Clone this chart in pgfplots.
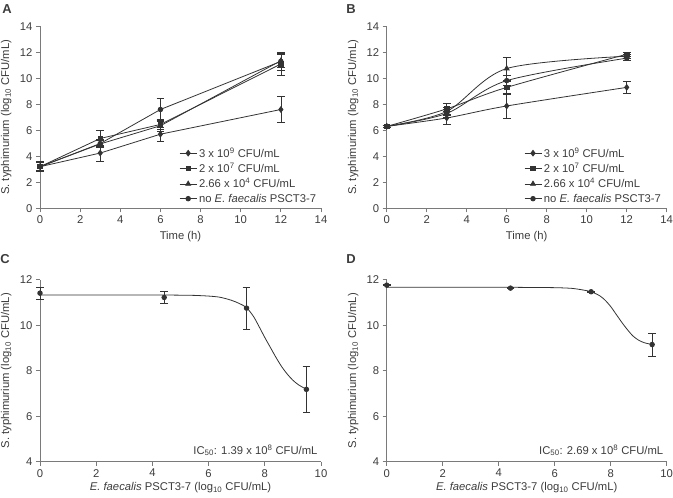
\documentclass[border=0pt]{standalone}
\usepackage{fontspec}
\setmainfont{Liberation Sans}
\usepackage{pgfplots}
\pgfplotsset{compat=1.18}
\definecolor{ln}{HTML}{333333}
\definecolor{ax}{HTML}{7A7A7A}
\definecolor{tx}{HTML}{3C3C3C}
\newcommand{\fs}{\fontsize{11.3}{13.5}\selectfont}
\pgfplotsset{
 panel/.style={
  scale only axis, height=182bp,
  axis lines=left, axis line style={ax, line width=0.9pt, -},
  every tick/.style={ax, line width=0.8pt}, tick align=outside, major tick length=4bp,
  ticklabel style={font=\fs, text=tx},
  /pgf/number format/assume math mode=true,
  every axis y label/.style={at={(axis description cs:-0.12,0.5)}, rotate=90, anchor=center, font=\fs, text=tx},
  every axis x label/.style={at={(axis description cs:0.5,0)}, anchor=center, yshift=-28bp, font=\fs, text=tx},
  ylabel={S. typhimurium (log\textsubscript{10} CFU/mL)},
  clip=false,
  cycle list={{ln, mark options={fill=ln, draw=ln, solid}}},
  every axis plot/.append style={ln, line width=0.8pt, mark size=2.3bp},
  error bars/error bar style={ln, line width=0.7pt},
  error bars/error mark options={rotate=90, mark size=3.8bp, line width=0.7pt, ln},
  legend style={draw=none, fill=none, font=\fs, text=tx, inner sep=0pt, row sep=0.5bp, anchor=north west},
  legend cell align=left,
 },
 timepanel/.style={panel, width=281bp, xmin=0, xmax=14, ymin=0, ymax=14,
  xtick={0,2,...,14}, ytick={0,2,...,14}, xlabel={Time (h)}},
 icpanel/.style={panel, width=281bp, xmin=0, xmax=10, ymin=4, ymax=12,
  xtick={0,2,...,10}, ytick={4,6,...,12},
  xlabel={\textit{E. faecalis} PSCT3-7 (log\textsubscript{10} CFU/mL)},
  every axis x label/.append style={yshift=2bp}},
}
\begin{document}
\begin{tikzpicture}
\useasboundingbox (0,0) rectangle (673bp,498bp);
% ---------- A ----------
\begin{axis}[timepanel, at={(40bp,289.7bp)}, anchor=south west,
  legend style={at={(0.495,0.345)}}]
\addplot+[mark=diamond*, mark size=2.8bp, error bars/.cd, y dir=both, y explicit] coordinates {
 (0,3.2) +- (0,0.38) (3,4.25) +- (0,0.62) (6,5.7) +- (0,0.55) (12,7.6) +- (0,1.0)};
\addplot+[mark=square*, mark size=2.2bp, error bars/.cd, y dir=both, y explicit] coordinates {
 (0,3.2) +- (0,0.35) (3,5.37) +- (0,0.63) (6,6.45) +- (0,0.4) (12,11.1) +- (0,0.85)};
\addplot+[mark=triangle*, mark size=2.8bp, error bars/.cd, y dir=both, y explicit] coordinates {
 (0,3.2) +- (0,0.3) (3,4.95) +- (0,0.3) (6,6.35) +- (0,0.45) (12,11.35) +- (0,0.5)};
\addplot+[mark=*, error bars/.cd, y dir=both, y explicit] coordinates {
 (0,3.2) +- (0,0.3) (3,4.98) +- (0,0.3) (6,7.6) +- (0,0.88) (12,11.3) +- (0,0.72)};
\legend{3 x 10\textsuperscript{9} CFU/mL, 2 x 10\textsuperscript{7} CFU/mL, 2.66 x 10\textsuperscript{4} CFU/mL, no \textit{E. faecalis} PSCT3-7}
\end{axis}
% ---------- B ----------
\begin{axis}[timepanel, width=280bp, at={(386.7bp,289.7bp)}, anchor=south west,
  legend style={at={(0.49,0.345)}}]
\addplot+[smooth, mark=diamond*, mark size=2.8bp, error bars/.cd, y dir=both, y explicit] coordinates {
 (0,6.3) +- (0,0.1) (3,6.95) +- (0,0.5) (6,7.87) +- (0,0.95) (12,9.3) +- (0,0.45)};
\addplot+[smooth, mark=square*, mark size=2.2bp, error bars/.cd, y dir=both, y explicit] coordinates {
 (0,6.3) +- (0,0.1) (3,7.65) +- (0,0.4) (6,9.3) +- (0,0.5) (12,11.85) +- (0,0.15)};
\addplot+[smooth, mark=triangle*, mark size=2.8bp, error bars/.cd, y dir=both, y explicit] coordinates {
 (0,6.3) +- (0,0.1) (3,7.45) +- (0,0.3) (6,10.75) +- (0,0.88) (12,11.7) +- (0,0.15)};
\addplot+[smooth, mark=*, error bars/.cd, y dir=both, y explicit] coordinates {
 (0,6.3) +- (0,0.1) (3,7.3) +- (0,0.3) (6,9.82) +- (0,0.4) (12,11.55) +- (0,0.15)};
\legend{3 x 10\textsuperscript{9} CFU/mL, 2 x 10\textsuperscript{7} CFU/mL, 2.66 x 10\textsuperscript{4} CFU/mL, no \textit{E. faecalis} PSCT3-7}
\end{axis}
% ---------- C ----------
\begin{axis}[icpanel, at={(40bp,36.3bp)}, anchor=south west]
\addplot[ln, line width=0.8pt, smooth, no marks] coordinates {
 (0,11.33) (2,11.33) (4,11.33) (5,11.32) (5.5,11.31) (6,11.28) (6.4,11.23) (6.8,11.1)
 (7.1,10.95) (7.35,10.77) (7.6,10.38) (7.8,9.93) (8.0,9.46) (8.2,9.02) (8.4,8.58)
 (8.6,8.18) (8.8,7.85) (9.0,7.58) (9.2,7.38) (9.48,7.18)};
\addplot+[only marks, mark=*, error bars/.cd, y dir=both, y explicit] coordinates {
 (0,11.41) +- (0,0.27) (4.42,11.22) +- (0,0.25) (7.35,10.75) +- (0,0.93) (9.48,7.18) +- (0,1.02)};
\node[anchor=east, font=\fs, text=tx] at (axis cs:10,4.5) {IC\textsubscript{50}: 1.39 x 10\textsuperscript{8} CFU/mL};
\end{axis}
% ---------- D ----------
\begin{axis}[icpanel, width=280bp, at={(386.7bp,36.3bp)}, anchor=south west]
\addplot[ln, line width=0.8pt, smooth, no marks] coordinates {
 (0,11.67) (2,11.67) (4,11.67) (5,11.66) (6,11.65) (6.6,11.62) (7.0,11.55) (7.3,11.47)
 (7.6,11.3) (7.8,11.1) (8.0,10.82) (8.2,10.47) (8.4,10.12) (8.6,9.8) (8.8,9.52)
 (9.0,9.34) (9.2,9.23) (9.48,9.15)};
\addplot+[only marks, mark=*, error bars/.cd, y dir=both, y explicit] coordinates {
 (0,11.76) +- (0,0.02) (4.42,11.63) +- (0,0.02) (7.3,11.47) +- (0,0.03) (9.48,9.15) +- (0,0.5)};
\node[anchor=east, font=\fs, text=tx] at (axis cs:10,4.5) {IC\textsubscript{50}: 2.69 x 10\textsuperscript{8} CFU/mL};
\end{axis}
% panel letters
\node[font=\bfseries\fontsize{13}{15}\selectfont, text=tx] at (7bp,489bp) {A};
\node[font=\bfseries\fontsize{13}{15}\selectfont, text=tx] at (351bp,489bp) {B};
\node[font=\bfseries\fontsize{13}{15}\selectfont, text=tx] at (5bp,239bp) {C};
\node[font=\bfseries\fontsize{13}{15}\selectfont, text=tx] at (351bp,239bp) {D};
\end{tikzpicture}
\end{document}
